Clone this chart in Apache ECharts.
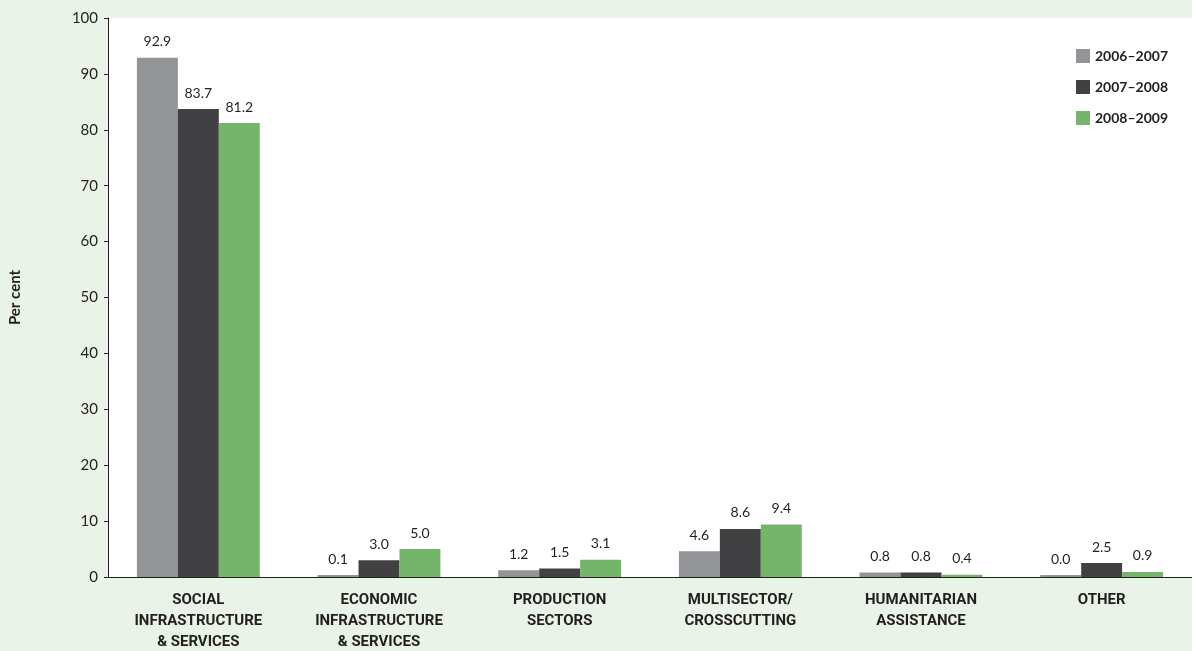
<!DOCTYPE html>
<html><head><meta charset="utf-8">
<script src="https://cdn.jsdelivr.net/npm/echarts@6/dist/echarts.min.js"></script>
<style>html,body{margin:0;padding:0;background:#e9f3e7;}#c{width:1192px;height:651px;}</style>
</head><body><div id="c"></div>
<script>
const categories = ['SOCIAL\nINFRASTRUCTURE\n& SERVICES','ECONOMIC\nINFRASTRUCTURE\n& SERVICES','PRODUCTION\nSECTORS','MULTISECTOR/\nCROSSCUTTING','HUMANITARIAN\nASSISTANCE','OTHER'];
const seriesNames = ['2006\u20132007','2007\u20132008','2008\u20132009'];
const v2006 = [92.9, 0.1, 1.2, 4.6, 0.8, 0.0];
const v2007 = [83.7, 3.0, 1.5, 8.6, 0.8, 2.5];
const v2008 = [81.2, 5.0, 3.1, 9.4, 0.4, 0.9];
const colors = ['#939497','#414042','#74b56b'];
const FONT = "Lato, 'Open Sans', sans-serif";
const CAT_FONT = "Roboto, Lato, sans-serif";
const chart = echarts.init(document.getElementById('c'));
const mk = (name, data, color) => ({
  name, type:'bar', data, barGap:'0%', barCategoryGap:'32%', barMinHeight:2,
  itemStyle:{color},
  label:{show:true, position:'top', distance:9, color:'#231f20', fontSize:14, fontFamily:FONT,
    formatter:p=>p.value.toFixed(1)}
});
chart.setOption({
  animation:false,
  textStyle:{fontFamily:FONT},
  grid:{left:108, right:0, top:18, bottom:74, show:true, backgroundColor:'#ffffff', borderWidth:0,
    containLabel:false, outerBoundsMode:'none'},
  legend:{orient:'vertical', left:1071, top:44, itemWidth:14, itemHeight:14, itemGap:17,
    icon:'rect', textStyle:{fontSize:14, fontWeight:'bold', color:'#231f20', fontFamily:FONT}},
  xAxis:{type:'category', data:categories,
    axisLine:{lineStyle:{color:'#231f20', width:1}}, axisTick:{show:false},
    axisLabel:{interval:0, margin:13, fontSize:15, fontWeight:'bold', color:'#231f20', lineHeight:21, fontFamily:CAT_FONT}},
  yAxis:{type:'value', min:0, max:100, interval:10, name:'Per cent', nameLocation:'middle', nameGap:85, nameRotate:90,
    nameTextStyle:{fontSize:15, fontWeight:'bold', color:'#231f20', fontFamily:FONT},
    axisLine:{show:true, lineStyle:{color:'#231f20'}}, axisTick:{show:true, length:4, lineStyle:{color:'#231f20'}},
    splitLine:{show:false},
    axisLabel:{fontSize:15, color:'#231f20', margin:10, fontFamily:FONT}},
  series:[mk(seriesNames[0], v2006, colors[0]), mk(seriesNames[1], v2007, colors[1]), mk(seriesNames[2], v2008, colors[2])]
});
</script></body></html>
